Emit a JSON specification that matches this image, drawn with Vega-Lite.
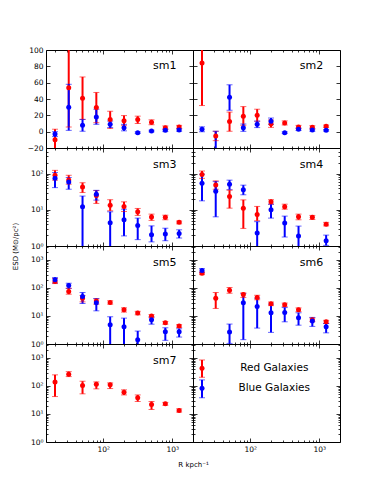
{
"$schema": "https://vega.github.io/schema/vega-lite/v6.json",
"padding": {"left": 10, "top": 45, "right": 5, "bottom": 5},
"background": "white",
"datasets": {"esd": [
{"p":"sm1","g":"Red","R":20,"y":-10,"lo":-25,"hi":3},
{"p":"sm1","g":"Red","R":31.6,"y":53.7,"lo":5.7,"hi":101.7},
{"p":"sm1","g":"Red","R":50.1,"y":41,"lo":15,"hi":67},
{"p":"sm1","g":"Red","R":79.4,"y":29.5,"lo":11,"hi":48},
{"p":"sm1","g":"Red","R":126,"y":14.8,"lo":4,"hi":25},
{"p":"sm1","g":"Red","R":200,"y":13.5,"lo":7.8,"hi":19.7},
{"p":"sm1","g":"Red","R":316,"y":14.8,"lo":10,"hi":19},
{"p":"sm1","g":"Red","R":501,"y":11.5,"lo":8.5,"hi":14.5},
{"p":"sm1","g":"Red","R":794,"y":4.9,"lo":3,"hi":7},
{"p":"sm1","g":"Red","R":1259,"y":5.7,"lo":3.7,"hi":7.7},
{"p":"sm1","g":"Blue","R":20,"y":-3,"lo":-6,"hi":0},
{"p":"sm1","g":"Blue","R":31.6,"y":30,"lo":1.6,"hi":58},
{"p":"sm1","g":"Blue","R":50.1,"y":7.8,"lo":0.5,"hi":15},
{"p":"sm1","g":"Blue","R":79.4,"y":18,"lo":9,"hi":27.5},
{"p":"sm1","g":"Blue","R":126,"y":9,"lo":5,"hi":13},
{"p":"sm1","g":"Blue","R":200,"y":4.9,"lo":1,"hi":9},
{"p":"sm1","g":"Blue","R":316,"y":-1.2,"lo":-2.2,"hi":-0.2},
{"p":"sm1","g":"Blue","R":501,"y":0.8,"lo":-0.2,"hi":1.8},
{"p":"sm1","g":"Blue","R":794,"y":1.6,"lo":0.1,"hi":3.1},
{"p":"sm1","g":"Blue","R":1259,"y":2,"lo":0.5,"hi":3.5},
{"p":"sm2","g":"Red","R":20,"y":84,"lo":32,"hi":136},
{"p":"sm2","g":"Red","R":31.6,"y":-5.3,"lo":-11,"hi":0.5},
{"p":"sm2","g":"Red","R":50.1,"y":12.3,"lo":0.5,"hi":24},
{"p":"sm2","g":"Red","R":79.4,"y":18.9,"lo":7.8,"hi":30.7},
{"p":"sm2","g":"Red","R":126,"y":20,"lo":12.7,"hi":27.5},
{"p":"sm2","g":"Red","R":200,"y":9.8,"lo":5.3,"hi":14.3},
{"p":"sm2","g":"Red","R":316,"y":10.7,"lo":8.2,"hi":13.2},
{"p":"sm2","g":"Red","R":501,"y":5.7,"lo":3.7,"hi":7.7},
{"p":"sm2","g":"Red","R":794,"y":5.3,"lo":3.3,"hi":7.3},
{"p":"sm2","g":"Red","R":1259,"y":6.6,"lo":5.1,"hi":8.1},
{"p":"sm2","g":"Blue","R":20,"y":2.9,"lo":-0.1,"hi":5.9},
{"p":"sm2","g":"Blue","R":31.6,"y":-25,"lo":-50,"hi":0.5},
{"p":"sm2","g":"Blue","R":50.1,"y":42.2,"lo":26.2,"hi":57.4},
{"p":"sm2","g":"Blue","R":79.4,"y":4.9,"lo":0.4,"hi":9.4},
{"p":"sm2","g":"Blue","R":126,"y":9,"lo":5,"hi":13},
{"p":"sm2","g":"Blue","R":200,"y":12.7,"lo":8.7,"hi":16.7},
{"p":"sm2","g":"Blue","R":316,"y":-1.2,"lo":-2.2,"hi":-0.2},
{"p":"sm2","g":"Blue","R":501,"y":2.9,"lo":1.4,"hi":4.4},
{"p":"sm2","g":"Blue","R":794,"y":2,"lo":0.5,"hi":3.5},
{"p":"sm2","g":"Blue","R":1259,"y":1.6,"lo":0.6,"hi":2.6},
{"p":"sm3","g":"Red","R":20,"y":90,"lo":66,"hi":123},
{"p":"sm3","g":"Red","R":31.6,"y":67,"lo":51,"hi":90},
{"p":"sm3","g":"Red","R":50.1,"y":43,"lo":30,"hi":56},
{"p":"sm3","g":"Red","R":79.4,"y":24.8,"lo":15,"hi":34},
{"p":"sm3","g":"Red","R":126,"y":13.4,"lo":9.4,"hi":19},
{"p":"sm3","g":"Red","R":200,"y":12.4,"lo":9,"hi":16.6},
{"p":"sm3","g":"Red","R":316,"y":8.8,"lo":7,"hi":10.9},
{"p":"sm3","g":"Red","R":501,"y":6.3,"lo":5.1,"hi":7.6},
{"p":"sm3","g":"Red","R":794,"y":6.2,"lo":5.3,"hi":7.1},
{"p":"sm3","g":"Red","R":1259,"y":4.5,"lo":4.1,"hi":4.9},
{"p":"sm3","g":"Blue","R":20,"y":74,"lo":41,"hi":107},
{"p":"sm3","g":"Blue","R":31.6,"y":59,"lo":37,"hi":78},
{"p":"sm3","g":"Blue","R":50.1,"y":12.1,"lo":0.5,"hi":24},
{"p":"sm3","g":"Blue","R":79.4,"y":27,"lo":18.5,"hi":34.5},
{"p":"sm3","g":"Blue","R":126,"y":4.4,"lo":0.5,"hi":8.8},
{"p":"sm3","g":"Blue","R":200,"y":5.3,"lo":1.9,"hi":10.4},
{"p":"sm3","g":"Blue","R":316,"y":3.7,"lo":1.5,"hi":5.9},
{"p":"sm3","g":"Blue","R":501,"y":2.05,"lo":1.3,"hi":3.6},
{"p":"sm3","g":"Blue","R":794,"y":2.14,"lo":1.4,"hi":3.1},
{"p":"sm3","g":"Blue","R":1259,"y":2.2,"lo":1.66,"hi":2.8},
{"p":"sm4","g":"Red","R":20,"y":94,"lo":74,"hi":118},
{"p":"sm4","g":"Red","R":31.6,"y":48.8,"lo":37,"hi":63},
{"p":"sm4","g":"Red","R":50.1,"y":23.3,"lo":11.1,"hi":34.8},
{"p":"sm4","g":"Red","R":79.4,"y":11.1,"lo":3.06,"hi":18.8},
{"p":"sm4","g":"Red","R":126,"y":7.4,"lo":5,"hi":12.4},
{"p":"sm4","g":"Red","R":200,"y":16.6,"lo":14.3,"hi":19},
{"p":"sm4","g":"Red","R":316,"y":12.1,"lo":10.4,"hi":14.3},
{"p":"sm4","g":"Red","R":501,"y":6.4,"lo":5.3,"hi":7.6},
{"p":"sm4","g":"Red","R":794,"y":6.2,"lo":5.4,"hi":7},
{"p":"sm4","g":"Red","R":1259,"y":4,"lo":3.6,"hi":4.5},
{"p":"sm4","g":"Blue","R":20,"y":54,"lo":17.7,"hi":96},
{"p":"sm4","g":"Blue","R":31.6,"y":32.7,"lo":6.4,"hi":60},
{"p":"sm4","g":"Blue","R":50.1,"y":51,"lo":36,"hi":66},
{"p":"sm4","g":"Blue","R":79.4,"y":36,"lo":26,"hi":48},
{"p":"sm4","g":"Blue","R":126,"y":2.3,"lo":0.5,"hi":4.7},
{"p":"sm4","g":"Blue","R":200,"y":10,"lo":5.9,"hi":14.3},
{"p":"sm4","g":"Blue","R":316,"y":4.3,"lo":1.77,"hi":6.7},
{"p":"sm4","g":"Blue","R":501,"y":1.9,"lo":0.5,"hi":3.55},
{"p":"sm4","g":"Blue","R":1259,"y":1.4,"lo":1.04,"hi":2},
{"p":"sm5","g":"Red","R":20,"y":170,"lo":144,"hi":218},
{"p":"sm5","g":"Red","R":31.6,"y":75,"lo":60,"hi":98},
{"p":"sm5","g":"Red","R":50.1,"y":43,"lo":32,"hi":54},
{"p":"sm5","g":"Red","R":79.4,"y":34,"lo":26.5,"hi":41},
{"p":"sm5","g":"Red","R":126,"y":30.4,"lo":26.5,"hi":35},
{"p":"sm5","g":"Red","R":200,"y":16.7,"lo":13.8,"hi":19.6},
{"p":"sm5","g":"Red","R":316,"y":12.7,"lo":11,"hi":14.7},
{"p":"sm5","g":"Red","R":501,"y":9.9,"lo":8.7,"hi":11.2},
{"p":"sm5","g":"Red","R":794,"y":5.7,"lo":5.1,"hi":6.4},
{"p":"sm5","g":"Red","R":1259,"y":4.4,"lo":3.9,"hi":4.9},
{"p":"sm5","g":"Blue","R":20,"y":195,"lo":153,"hi":235},
{"p":"sm5","g":"Blue","R":31.6,"y":122,"lo":96,"hi":148},
{"p":"sm5","g":"Blue","R":50.1,"y":50,"lo":28,"hi":69},
{"p":"sm5","g":"Blue","R":79.4,"y":29.6,"lo":15.3,"hi":42},
{"p":"sm5","g":"Blue","R":126,"y":4.9,"lo":0.5,"hi":9.4},
{"p":"sm5","g":"Blue","R":200,"y":4.1,"lo":0.5,"hi":8.4},
{"p":"sm5","g":"Blue","R":316,"y":1.43,"lo":0.5,"hi":2.9},
{"p":"sm5","g":"Blue","R":501,"y":7.3,"lo":5.1,"hi":9.4},
{"p":"sm5","g":"Blue","R":794,"y":2.75,"lo":1.35,"hi":3.8},
{"p":"sm5","g":"Blue","R":1259,"y":2.75,"lo":1.77,"hi":3.5},
{"p":"sm6","g":"Red","R":20,"y":336,"lo":300,"hi":375},
{"p":"sm6","g":"Red","R":31.6,"y":43,"lo":18.6,"hi":69},
{"p":"sm6","g":"Red","R":50.1,"y":83,"lo":65,"hi":104},
{"p":"sm6","g":"Red","R":79.4,"y":58.6,"lo":46,"hi":67},
{"p":"sm6","g":"Red","R":126,"y":45.9,"lo":38,"hi":55},
{"p":"sm6","g":"Red","R":200,"y":27.2,"lo":23.5,"hi":31.5},
{"p":"sm6","g":"Red","R":316,"y":25,"lo":21.5,"hi":29},
{"p":"sm6","g":"Red","R":501,"y":16.7,"lo":14.3,"hi":19.5},
{"p":"sm6","g":"Red","R":794,"y":7.3,"lo":6.3,"hi":8.5},
{"p":"sm6","g":"Red","R":1259,"y":6.2,"lo":5.4,"hi":7},
{"p":"sm6","g":"Blue","R":20,"y":420,"lo":355,"hi":490},
{"p":"sm6","g":"Blue","R":50.1,"y":2.67,"lo":1.05,"hi":5.15},
{"p":"sm6","g":"Blue","R":79.4,"y":29.6,"lo":1.43,"hi":63},
{"p":"sm6","g":"Blue","R":126,"y":21.9,"lo":3.7,"hi":43},
{"p":"sm6","g":"Blue","R":200,"y":13,"lo":2.6,"hi":26.5},
{"p":"sm6","g":"Blue","R":316,"y":13.4,"lo":6.2,"hi":20},
{"p":"sm6","g":"Blue","R":501,"y":8.6,"lo":4.7,"hi":13},
{"p":"sm6","g":"Blue","R":794,"y":6.6,"lo":4.25,"hi":8.9},
{"p":"sm6","g":"Blue","R":1259,"y":4.1,"lo":2.5,"hi":5.4},
{"p":"sm7","g":"Red","R":20,"y":140,"lo":42,"hi":250},
{"p":"sm7","g":"Red","R":31.6,"y":263,"lo":217,"hi":326},
{"p":"sm7","g":"Red","R":50.1,"y":104,"lo":52.5,"hi":148},
{"p":"sm7","g":"Red","R":79.4,"y":116,"lo":79,"hi":140},
{"p":"sm7","g":"Red","R":126,"y":110,"lo":81,"hi":129},
{"p":"sm7","g":"Red","R":200,"y":60,"lo":48,"hi":73},
{"p":"sm7","g":"Red","R":316,"y":38,"lo":28,"hi":48},
{"p":"sm7","g":"Red","R":501,"y":22,"lo":14.5,"hi":28},
{"p":"sm7","g":"Red","R":794,"y":23,"lo":20.5,"hi":26},
{"p":"sm7","g":"Red","R":1259,"y":13.4,"lo":11.7,"hi":15.3},
{"p":"sm8","g":"Red","R":20,"y":430,"lo":205,"hi":850},
{"p":"sm8","g":"Blue","R":20,"y":83.5,"lo":38,"hi":165}
]},
"columns": 2,
"spacing": 0,
"bounds": "flush",
"concat": [
{"width":147,"height":98,"data":{"name":"esd"},"transform":[{"filter":"datum.p == 'sm1'"}],
 "resolve":{"axis":{"x":"independent","y":"independent"}},
 "layer":[
  {"mark":{"type":"rule","clip":true,"strokeWidth":2},"encoding":{
    "x":{"field":"R","type":"quantitative","scale":{"type":"log","domain":[14.8,2000]},"axis":{"values":[20,30,40,50,60,70,80,90,100,200,300,400,500,600,700,800,900,1000],"labels":false,"tickSize":{"condition":{"test":"indexof([100,1000], datum.value) >= 0","value":-4},"value":-2},"title":null}},
    "y":{"field":"lo","type":"quantitative","scale":{"domain":[-20,100]},"axis":{"values":[-20,0,20,40,60,80,100],"tickSize":-4,"labelPadding":7,"labelOverlap":false,"title":null}},
    "y2":{"field":"hi"},
    "color":{"field":"g","type":"nominal","scale":{"domain":["Red","Blue"],"range":["#ff0000","#0000ff"]},"legend":null}}},
  {"mark":{"type":"tick","clip":true,"orient":"horizontal","size":6,"thickness":1,"opacity":0.6},"encoding":{
    "x":{"field":"R","type":"quantitative","scale":{"type":"log","domain":[14.8,2000]},"axis":null},
    "y":{"field":"lo","type":"quantitative","scale":{"domain":[-20,100]},"axis":null},
    "color":{"field":"g","type":"nominal","scale":{"domain":["Red","Blue"],"range":["#ff0000","#0000ff"]},"legend":null}}},
  {"mark":{"type":"tick","clip":true,"orient":"horizontal","size":6,"thickness":1,"opacity":0.6},"encoding":{
    "x":{"field":"R","type":"quantitative","scale":{"type":"log","domain":[14.8,2000]},"axis":null},
    "y":{"field":"hi","type":"quantitative","scale":{"domain":[-20,100]},"axis":null},
    "color":{"field":"g","type":"nominal","scale":{"domain":["Red","Blue"],"range":["#ff0000","#0000ff"]},"legend":null}}},
  {"mark":{"type":"circle","clip":true,"size":25,"opacity":1},"encoding":{
    "x":{"field":"R","type":"quantitative","scale":{"type":"log","domain":[14.8,2000]},"axis":null},
    "y":{"field":"y","type":"quantitative","scale":{"domain":[-20,100]},"axis":null},
    "color":{"field":"g","type":"nominal","scale":{"domain":["Red","Blue"],"range":["#ff0000","#0000ff"]},"legend":null}}},
  {"data":{"values":[{"t":"sm1","p":"sm1"}]},"mark":{"type":"text","fontSize":11,"font":"DejaVu Sans","color":"black"},"encoding":{
    "x":{"datum":780,"type":"quantitative","scale":{"type":"log","domain":[14.8,2000]},"axis":null},
    "y":{"datum":80,"type":"quantitative","scale":{"domain":[-20,100]},"axis":null},
    "text":{"field":"t"}}},
  {"mark":{"type":"point","opacity":0},"encoding":{
    "x":{"field":"R","type":"quantitative","scale":{"type":"log","domain":[14.8,2000]},"axis":{"orient":"top","values":[20,30,40,50,60,70,80,90,100,200,300,400,500,600,700,800,900,1000],"labels":false,"tickSize":{"condition":{"test":"indexof([100,1000], datum.value) >= 0","value":-4},"value":-2},"title":null}},
    "y":{"field":"y","type":"quantitative","scale":{"domain":[-20,100]},"axis":{"orient":"right","values":[-20,0,20,40,60,80,100],"labels":false,"tickSize":-4,"title":null}}}}
 ]},
{"width":147,"height":98,"data":{"name":"esd"},"transform":[{"filter":"datum.p == 'sm2'"}],
 "resolve":{"axis":{"x":"independent","y":"independent"}},
 "layer":[
  {"mark":{"type":"rule","clip":true,"strokeWidth":2},"encoding":{
    "x":{"field":"R","type":"quantitative","scale":{"type":"log","domain":[14.8,2000]},"axis":{"values":[20,30,40,50,60,70,80,90,100,200,300,400,500,600,700,800,900,1000],"labels":false,"tickSize":{"condition":{"test":"indexof([100,1000], datum.value) >= 0","value":-4},"value":-2},"title":null}},
    "y":{"field":"lo","type":"quantitative","scale":{"domain":[-20,100]},"axis":{"values":[-20,0,20,40,60,80,100],"tickSize":-4,"labels":false,"title":null}},
    "y2":{"field":"hi"},
    "color":{"field":"g","type":"nominal","scale":{"domain":["Red","Blue"],"range":["#ff0000","#0000ff"]},"legend":null}}},
  {"mark":{"type":"tick","clip":true,"orient":"horizontal","size":6,"thickness":1,"opacity":0.6},"encoding":{
    "x":{"field":"R","type":"quantitative","scale":{"type":"log","domain":[14.8,2000]},"axis":null},
    "y":{"field":"lo","type":"quantitative","scale":{"domain":[-20,100]},"axis":null},
    "color":{"field":"g","type":"nominal","scale":{"domain":["Red","Blue"],"range":["#ff0000","#0000ff"]},"legend":null}}},
  {"mark":{"type":"tick","clip":true,"orient":"horizontal","size":6,"thickness":1,"opacity":0.6},"encoding":{
    "x":{"field":"R","type":"quantitative","scale":{"type":"log","domain":[14.8,2000]},"axis":null},
    "y":{"field":"hi","type":"quantitative","scale":{"domain":[-20,100]},"axis":null},
    "color":{"field":"g","type":"nominal","scale":{"domain":["Red","Blue"],"range":["#ff0000","#0000ff"]},"legend":null}}},
  {"mark":{"type":"circle","clip":true,"size":25,"opacity":1},"encoding":{
    "x":{"field":"R","type":"quantitative","scale":{"type":"log","domain":[14.8,2000]},"axis":null},
    "y":{"field":"y","type":"quantitative","scale":{"domain":[-20,100]},"axis":null},
    "color":{"field":"g","type":"nominal","scale":{"domain":["Red","Blue"],"range":["#ff0000","#0000ff"]},"legend":null}}},
  {"data":{"values":[{"t":"sm2","p":"sm2"}]},"mark":{"type":"text","fontSize":11,"font":"DejaVu Sans","color":"black"},"encoding":{
    "x":{"datum":770,"type":"quantitative","scale":{"type":"log","domain":[14.8,2000]},"axis":null},
    "y":{"datum":80,"type":"quantitative","scale":{"domain":[-20,100]},"axis":null},
    "text":{"field":"t"}}},
  {"mark":{"type":"point","opacity":0},"encoding":{
    "x":{"field":"R","type":"quantitative","scale":{"type":"log","domain":[14.8,2000]},"axis":{"orient":"top","values":[20,30,40,50,60,70,80,90,100,200,300,400,500,600,700,800,900,1000],"labels":false,"tickSize":{"condition":{"test":"indexof([100,1000], datum.value) >= 0","value":-4},"value":-2},"title":null}},
    "y":{"field":"y","type":"quantitative","scale":{"domain":[-20,100]},"axis":{"orient":"right","values":[-20,0,20,40,60,80,100],"labels":false,"tickSize":-4,"title":null}}}}
 ]},
{"width":147,"height":98,"data":{"name":"esd"},"transform":[{"filter":"datum.p == 'sm3'"}],
 "resolve":{"axis":{"x":"independent","y":"independent"}},
 "layer":[
  {"mark":{"type":"rule","clip":true,"strokeWidth":2},"encoding":{
    "x":{"field":"R","type":"quantitative","scale":{"type":"log","domain":[14.8,2000]},"axis":{"values":[20,30,40,50,60,70,80,90,100,200,300,400,500,600,700,800,900,1000],"labels":false,"tickSize":{"condition":{"test":"indexof([100,1000], datum.value) >= 0","value":-4},"value":-2},"title":null}},
    "y":{"field":"lo","type":"quantitative","scale":{"type":"log","domain":[1,510]},"axis":{"values":[1,2,3,4,5,6,7,8,9,10,20,30,40,50,60,70,80,90,100,200,300,400,500],"labelExpr":"datum.value == 1 ? '10⁰' : datum.value == 10 ? '10¹' : datum.value == 100 ? '10²' : ''","tickSize":{"condition":{"test":"indexof([1,10,100,1000], datum.value) >= 0","value":-4},"value":-2},"labelPadding":7,"labelOverlap":false,"title":"ESD (M⊙/pc²)","titleY":98,"titlePadding":12}},
    "y2":{"field":"hi"},
    "color":{"field":"g","type":"nominal","scale":{"domain":["Red","Blue"],"range":["#ff0000","#0000ff"]},"legend":null}}},
  {"mark":{"type":"tick","clip":true,"orient":"horizontal","size":6,"thickness":1,"opacity":0.6},"encoding":{
    "x":{"field":"R","type":"quantitative","scale":{"type":"log","domain":[14.8,2000]},"axis":null},
    "y":{"field":"lo","type":"quantitative","scale":{"type":"log","domain":[1,510]},"axis":null},
    "color":{"field":"g","type":"nominal","scale":{"domain":["Red","Blue"],"range":["#ff0000","#0000ff"]},"legend":null}}},
  {"mark":{"type":"tick","clip":true,"orient":"horizontal","size":6,"thickness":1,"opacity":0.6},"encoding":{
    "x":{"field":"R","type":"quantitative","scale":{"type":"log","domain":[14.8,2000]},"axis":null},
    "y":{"field":"hi","type":"quantitative","scale":{"type":"log","domain":[1,510]},"axis":null},
    "color":{"field":"g","type":"nominal","scale":{"domain":["Red","Blue"],"range":["#ff0000","#0000ff"]},"legend":null}}},
  {"mark":{"type":"circle","clip":true,"size":25,"opacity":1},"encoding":{
    "x":{"field":"R","type":"quantitative","scale":{"type":"log","domain":[14.8,2000]},"axis":null},
    "y":{"field":"y","type":"quantitative","scale":{"type":"log","domain":[1,510]},"axis":null},
    "color":{"field":"g","type":"nominal","scale":{"domain":["Red","Blue"],"range":["#ff0000","#0000ff"]},"legend":null}}},
  {"data":{"values":[{"t":"sm3","p":"sm3"}]},"mark":{"type":"text","fontSize":11,"font":"DejaVu Sans","color":"black"},"encoding":{
    "x":{"datum":780,"type":"quantitative","scale":{"type":"log","domain":[14.8,2000]},"axis":null},
    "y":{"datum":174,"type":"quantitative","scale":{"type":"log","domain":[1,510]},"axis":null},
    "text":{"field":"t"}}},
  {"mark":{"type":"point","opacity":0},"encoding":{
    "x":{"field":"R","type":"quantitative","scale":{"type":"log","domain":[14.8,2000]},"axis":{"orient":"top","values":[20,30,40,50,60,70,80,90,100,200,300,400,500,600,700,800,900,1000],"labels":false,"tickSize":{"condition":{"test":"indexof([100,1000], datum.value) >= 0","value":-4},"value":-2},"title":null}},
    "y":{"field":"y","type":"quantitative","scale":{"type":"log","domain":[1,510]},"axis":{"orient":"right","values":[1,2,3,4,5,6,7,8,9,10,20,30,40,50,60,70,80,90,100,200,300,400,500],"labels":false,"tickSize":{"condition":{"test":"indexof([1,10,100,1000], datum.value) >= 0","value":-4},"value":-2},"title":null}}}}
 ]},
{"width":147,"height":98,"data":{"name":"esd"},"transform":[{"filter":"datum.p == 'sm4'"}],
 "resolve":{"axis":{"x":"independent","y":"independent"}},
 "layer":[
  {"mark":{"type":"rule","clip":true,"strokeWidth":2},"encoding":{
    "x":{"field":"R","type":"quantitative","scale":{"type":"log","domain":[14.8,2000]},"axis":{"values":[20,30,40,50,60,70,80,90,100,200,300,400,500,600,700,800,900,1000],"labels":false,"tickSize":{"condition":{"test":"indexof([100,1000], datum.value) >= 0","value":-4},"value":-2},"title":null}},
    "y":{"field":"lo","type":"quantitative","scale":{"type":"log","domain":[1,510]},"axis":{"values":[1,2,3,4,5,6,7,8,9,10,20,30,40,50,60,70,80,90,100,200,300,400,500],"labels":false,"tickSize":{"condition":{"test":"indexof([1,10,100,1000], datum.value) >= 0","value":-4},"value":-2},"title":null}},
    "y2":{"field":"hi"},
    "color":{"field":"g","type":"nominal","scale":{"domain":["Red","Blue"],"range":["#ff0000","#0000ff"]},"legend":null}}},
  {"mark":{"type":"tick","clip":true,"orient":"horizontal","size":6,"thickness":1,"opacity":0.6},"encoding":{
    "x":{"field":"R","type":"quantitative","scale":{"type":"log","domain":[14.8,2000]},"axis":null},
    "y":{"field":"lo","type":"quantitative","scale":{"type":"log","domain":[1,510]},"axis":null},
    "color":{"field":"g","type":"nominal","scale":{"domain":["Red","Blue"],"range":["#ff0000","#0000ff"]},"legend":null}}},
  {"mark":{"type":"tick","clip":true,"orient":"horizontal","size":6,"thickness":1,"opacity":0.6},"encoding":{
    "x":{"field":"R","type":"quantitative","scale":{"type":"log","domain":[14.8,2000]},"axis":null},
    "y":{"field":"hi","type":"quantitative","scale":{"type":"log","domain":[1,510]},"axis":null},
    "color":{"field":"g","type":"nominal","scale":{"domain":["Red","Blue"],"range":["#ff0000","#0000ff"]},"legend":null}}},
  {"mark":{"type":"circle","clip":true,"size":25,"opacity":1},"encoding":{
    "x":{"field":"R","type":"quantitative","scale":{"type":"log","domain":[14.8,2000]},"axis":null},
    "y":{"field":"y","type":"quantitative","scale":{"type":"log","domain":[1,510]},"axis":null},
    "color":{"field":"g","type":"nominal","scale":{"domain":["Red","Blue"],"range":["#ff0000","#0000ff"]},"legend":null}}},
  {"data":{"values":[{"t":"sm4","p":"sm4"}]},"mark":{"type":"text","fontSize":11,"font":"DejaVu Sans","color":"black"},"encoding":{
    "x":{"datum":770,"type":"quantitative","scale":{"type":"log","domain":[14.8,2000]},"axis":null},
    "y":{"datum":174,"type":"quantitative","scale":{"type":"log","domain":[1,510]},"axis":null},
    "text":{"field":"t"}}},
  {"mark":{"type":"point","opacity":0},"encoding":{
    "x":{"field":"R","type":"quantitative","scale":{"type":"log","domain":[14.8,2000]},"axis":{"orient":"top","values":[20,30,40,50,60,70,80,90,100,200,300,400,500,600,700,800,900,1000],"labels":false,"tickSize":{"condition":{"test":"indexof([100,1000], datum.value) >= 0","value":-4},"value":-2},"title":null}},
    "y":{"field":"y","type":"quantitative","scale":{"type":"log","domain":[1,510]},"axis":{"orient":"right","values":[1,2,3,4,5,6,7,8,9,10,20,30,40,50,60,70,80,90,100,200,300,400,500],"labels":false,"tickSize":{"condition":{"test":"indexof([1,10,100,1000], datum.value) >= 0","value":-4},"value":-2},"title":null}}}}
 ]},
{"width":147,"height":98,"data":{"name":"esd"},"transform":[{"filter":"datum.p == 'sm5'"}],
 "resolve":{"axis":{"x":"independent","y":"independent"}},
 "layer":[
  {"mark":{"type":"rule","clip":true,"strokeWidth":2},"encoding":{
    "x":{"field":"R","type":"quantitative","scale":{"type":"log","domain":[14.8,2000]},"axis":{"values":[20,30,40,50,60,70,80,90,100,200,300,400,500,600,700,800,900,1000],"labels":false,"tickSize":{"condition":{"test":"indexof([100,1000], datum.value) >= 0","value":-4},"value":-2},"title":null}},
    "y":{"field":"lo","type":"quantitative","scale":{"type":"log","domain":[1,3160]},"axis":{"values":[1,2,3,4,5,6,7,8,9,10,20,30,40,50,60,70,80,90,100,200,300,400,500,600,700,800,900,1000,2000,3000],"labelExpr":"datum.value == 1 ? '10⁰' : datum.value == 10 ? '10¹' : datum.value == 100 ? '10²' : datum.value == 1000 ? '10³' : ''","tickSize":{"condition":{"test":"indexof([1,10,100,1000], datum.value) >= 0","value":-4},"value":-2},"labelPadding":7,"labelOverlap":false,"title":null}},
    "y2":{"field":"hi"},
    "color":{"field":"g","type":"nominal","scale":{"domain":["Red","Blue"],"range":["#ff0000","#0000ff"]},"legend":null}}},
  {"mark":{"type":"tick","clip":true,"orient":"horizontal","size":6,"thickness":1,"opacity":0.6},"encoding":{
    "x":{"field":"R","type":"quantitative","scale":{"type":"log","domain":[14.8,2000]},"axis":null},
    "y":{"field":"lo","type":"quantitative","scale":{"type":"log","domain":[1,3160]},"axis":null},
    "color":{"field":"g","type":"nominal","scale":{"domain":["Red","Blue"],"range":["#ff0000","#0000ff"]},"legend":null}}},
  {"mark":{"type":"tick","clip":true,"orient":"horizontal","size":6,"thickness":1,"opacity":0.6},"encoding":{
    "x":{"field":"R","type":"quantitative","scale":{"type":"log","domain":[14.8,2000]},"axis":null},
    "y":{"field":"hi","type":"quantitative","scale":{"type":"log","domain":[1,3160]},"axis":null},
    "color":{"field":"g","type":"nominal","scale":{"domain":["Red","Blue"],"range":["#ff0000","#0000ff"]},"legend":null}}},
  {"mark":{"type":"circle","clip":true,"size":25,"opacity":1},"encoding":{
    "x":{"field":"R","type":"quantitative","scale":{"type":"log","domain":[14.8,2000]},"axis":null},
    "y":{"field":"y","type":"quantitative","scale":{"type":"log","domain":[1,3160]},"axis":null},
    "color":{"field":"g","type":"nominal","scale":{"domain":["Red","Blue"],"range":["#ff0000","#0000ff"]},"legend":null}}},
  {"data":{"values":[{"t":"sm5","p":"sm5"}]},"mark":{"type":"text","fontSize":11,"font":"DejaVu Sans","color":"black"},"encoding":{
    "x":{"datum":780,"type":"quantitative","scale":{"type":"log","domain":[14.8,2000]},"axis":null},
    "y":{"datum":760,"type":"quantitative","scale":{"type":"log","domain":[1,3160]},"axis":null},
    "text":{"field":"t"}}},
  {"mark":{"type":"point","opacity":0},"encoding":{
    "x":{"field":"R","type":"quantitative","scale":{"type":"log","domain":[14.8,2000]},"axis":{"orient":"top","values":[20,30,40,50,60,70,80,90,100,200,300,400,500,600,700,800,900,1000],"labels":false,"tickSize":{"condition":{"test":"indexof([100,1000], datum.value) >= 0","value":-4},"value":-2},"title":null}},
    "y":{"field":"y","type":"quantitative","scale":{"type":"log","domain":[1,3160]},"axis":{"orient":"right","values":[1,2,3,4,5,6,7,8,9,10,20,30,40,50,60,70,80,90,100,200,300,400,500,600,700,800,900,1000,2000,3000],"labels":false,"tickSize":{"condition":{"test":"indexof([1,10,100,1000], datum.value) >= 0","value":-4},"value":-2},"title":null}}}}
 ]},
{"width":147,"height":98,"data":{"name":"esd"},"transform":[{"filter":"datum.p == 'sm6'"}],
 "resolve":{"axis":{"x":"independent","y":"independent"}},
 "layer":[
  {"mark":{"type":"rule","clip":true,"strokeWidth":2},"encoding":{
    "x":{"field":"R","type":"quantitative","scale":{"type":"log","domain":[14.8,2000]},"axis":{"values":[20,30,40,50,60,70,80,90,100,200,300,400,500,600,700,800,900,1000],"labels":false,"tickSize":{"condition":{"test":"indexof([100,1000], datum.value) >= 0","value":-4},"value":-2},"title":null}},
    "y":{"field":"lo","type":"quantitative","scale":{"type":"log","domain":[1,3160]},"axis":{"values":[1,2,3,4,5,6,7,8,9,10,20,30,40,50,60,70,80,90,100,200,300,400,500,600,700,800,900,1000,2000,3000],"labels":false,"tickSize":{"condition":{"test":"indexof([1,10,100,1000], datum.value) >= 0","value":-4},"value":-2},"title":null}},
    "y2":{"field":"hi"},
    "color":{"field":"g","type":"nominal","scale":{"domain":["Red","Blue"],"range":["#ff0000","#0000ff"]},"legend":null}}},
  {"mark":{"type":"tick","clip":true,"orient":"horizontal","size":6,"thickness":1,"opacity":0.6},"encoding":{
    "x":{"field":"R","type":"quantitative","scale":{"type":"log","domain":[14.8,2000]},"axis":null},
    "y":{"field":"lo","type":"quantitative","scale":{"type":"log","domain":[1,3160]},"axis":null},
    "color":{"field":"g","type":"nominal","scale":{"domain":["Red","Blue"],"range":["#ff0000","#0000ff"]},"legend":null}}},
  {"mark":{"type":"tick","clip":true,"orient":"horizontal","size":6,"thickness":1,"opacity":0.6},"encoding":{
    "x":{"field":"R","type":"quantitative","scale":{"type":"log","domain":[14.8,2000]},"axis":null},
    "y":{"field":"hi","type":"quantitative","scale":{"type":"log","domain":[1,3160]},"axis":null},
    "color":{"field":"g","type":"nominal","scale":{"domain":["Red","Blue"],"range":["#ff0000","#0000ff"]},"legend":null}}},
  {"mark":{"type":"circle","clip":true,"size":25,"opacity":1},"encoding":{
    "x":{"field":"R","type":"quantitative","scale":{"type":"log","domain":[14.8,2000]},"axis":null},
    "y":{"field":"y","type":"quantitative","scale":{"type":"log","domain":[1,3160]},"axis":null},
    "color":{"field":"g","type":"nominal","scale":{"domain":["Red","Blue"],"range":["#ff0000","#0000ff"]},"legend":null}}},
  {"data":{"values":[{"t":"sm6","p":"sm6"}]},"mark":{"type":"text","fontSize":11,"font":"DejaVu Sans","color":"black"},"encoding":{
    "x":{"datum":770,"type":"quantitative","scale":{"type":"log","domain":[14.8,2000]},"axis":null},
    "y":{"datum":784,"type":"quantitative","scale":{"type":"log","domain":[1,3160]},"axis":null},
    "text":{"field":"t"}}},
  {"mark":{"type":"point","opacity":0},"encoding":{
    "x":{"field":"R","type":"quantitative","scale":{"type":"log","domain":[14.8,2000]},"axis":{"orient":"top","values":[20,30,40,50,60,70,80,90,100,200,300,400,500,600,700,800,900,1000],"labels":false,"tickSize":{"condition":{"test":"indexof([100,1000], datum.value) >= 0","value":-4},"value":-2},"title":null}},
    "y":{"field":"y","type":"quantitative","scale":{"type":"log","domain":[1,3160]},"axis":{"orient":"right","values":[1,2,3,4,5,6,7,8,9,10,20,30,40,50,60,70,80,90,100,200,300,400,500,600,700,800,900,1000,2000,3000],"labels":false,"tickSize":{"condition":{"test":"indexof([1,10,100,1000], datum.value) >= 0","value":-4},"value":-2},"title":null}}}}
 ]},
{"width":147,"height":98,"data":{"name":"esd"},"transform":[{"filter":"datum.p == 'sm7'"}],
 "resolve":{"axis":{"x":"independent","y":"independent"}},
 "layer":[
  {"mark":{"type":"rule","clip":true,"strokeWidth":2},"encoding":{
    "x":{"field":"R","type":"quantitative","scale":{"type":"log","domain":[14.8,2000]},"axis":{"values":[20,30,40,50,60,70,80,90,100,200,300,400,500,600,700,800,900,1000],"labelExpr":"datum.value == 100 ? '10²' : datum.value == 1000 ? '10³' : ''","labelOverlap":false,"labelFlush":false,"labelPadding":7,"tickSize":{"condition":{"test":"indexof([100,1000], datum.value) >= 0","value":-4},"value":-2},"title":"R kpch⁻¹","titleX":147,"titlePadding":6}},
    "y":{"field":"lo","type":"quantitative","scale":{"type":"log","domain":[1,3160]},"axis":{"values":[1,2,3,4,5,6,7,8,9,10,20,30,40,50,60,70,80,90,100,200,300,400,500,600,700,800,900,1000,2000,3000],"labelExpr":"datum.value == 1 ? '10⁰' : datum.value == 10 ? '10¹' : datum.value == 100 ? '10²' : datum.value == 1000 ? '10³' : ''","tickSize":{"condition":{"test":"indexof([1,10,100,1000], datum.value) >= 0","value":-4},"value":-2},"labelPadding":7,"labelOverlap":false,"title":null}},
    "y2":{"field":"hi"},
    "color":{"field":"g","type":"nominal","scale":{"domain":["Red","Blue"],"range":["#ff0000","#0000ff"]},"legend":null}}},
  {"mark":{"type":"tick","clip":true,"orient":"horizontal","size":6,"thickness":1,"opacity":0.6},"encoding":{
    "x":{"field":"R","type":"quantitative","scale":{"type":"log","domain":[14.8,2000]},"axis":null},
    "y":{"field":"lo","type":"quantitative","scale":{"type":"log","domain":[1,3160]},"axis":null},
    "color":{"field":"g","type":"nominal","scale":{"domain":["Red","Blue"],"range":["#ff0000","#0000ff"]},"legend":null}}},
  {"mark":{"type":"tick","clip":true,"orient":"horizontal","size":6,"thickness":1,"opacity":0.6},"encoding":{
    "x":{"field":"R","type":"quantitative","scale":{"type":"log","domain":[14.8,2000]},"axis":null},
    "y":{"field":"hi","type":"quantitative","scale":{"type":"log","domain":[1,3160]},"axis":null},
    "color":{"field":"g","type":"nominal","scale":{"domain":["Red","Blue"],"range":["#ff0000","#0000ff"]},"legend":null}}},
  {"mark":{"type":"circle","clip":true,"size":25,"opacity":1},"encoding":{
    "x":{"field":"R","type":"quantitative","scale":{"type":"log","domain":[14.8,2000]},"axis":null},
    "y":{"field":"y","type":"quantitative","scale":{"type":"log","domain":[1,3160]},"axis":null},
    "color":{"field":"g","type":"nominal","scale":{"domain":["Red","Blue"],"range":["#ff0000","#0000ff"]},"legend":null}}},
  {"data":{"values":[{"t":"sm7","p":"sm7"}]},"mark":{"type":"text","fontSize":11,"font":"DejaVu Sans","color":"black"},"encoding":{
    "x":{"datum":780,"type":"quantitative","scale":{"type":"log","domain":[14.8,2000]},"axis":null},
    "y":{"datum":805,"type":"quantitative","scale":{"type":"log","domain":[1,3160]},"axis":null},
    "text":{"field":"t"}}},
  {"mark":{"type":"point","opacity":0},"encoding":{
    "x":{"field":"R","type":"quantitative","scale":{"type":"log","domain":[14.8,2000]},"axis":{"orient":"top","values":[20,30,40,50,60,70,80,90,100,200,300,400,500,600,700,800,900,1000],"labels":false,"tickSize":{"condition":{"test":"indexof([100,1000], datum.value) >= 0","value":-4},"value":-2},"title":null}},
    "y":{"field":"y","type":"quantitative","scale":{"type":"log","domain":[1,3160]},"axis":{"orient":"right","values":[1,2,3,4,5,6,7,8,9,10,20,30,40,50,60,70,80,90,100,200,300,400,500,600,700,800,900,1000,2000,3000],"labels":false,"tickSize":{"condition":{"test":"indexof([1,10,100,1000], datum.value) >= 0","value":-4},"value":-2},"title":null}}}}
 ]},
{"width":147,"height":98,"data":{"name":"esd"},"transform":[{"filter":"datum.p == 'sm8'"}],
 "resolve":{"axis":{"x":"independent","y":"independent"}},
 "layer":[
  {"mark":{"type":"rule","clip":true,"strokeWidth":2},"encoding":{
    "x":{"field":"R","type":"quantitative","scale":{"type":"log","domain":[14.8,2000]},"axis":{"values":[20,30,40,50,60,70,80,90,100,200,300,400,500,600,700,800,900,1000],"labelExpr":"datum.value == 100 ? '10²' : datum.value == 1000 ? '10³' : ''","labelOverlap":false,"labelFlush":false,"labelPadding":7,"tickSize":{"condition":{"test":"indexof([100,1000], datum.value) >= 0","value":-4},"value":-2},"title":null}},
    "y":{"field":"lo","type":"quantitative","scale":{"type":"log","domain":[1,3160]},"axis":{"values":[1,2,3,4,5,6,7,8,9,10,20,30,40,50,60,70,80,90,100,200,300,400,500,600,700,800,900,1000,2000,3000],"labels":false,"tickSize":{"condition":{"test":"indexof([1,10,100,1000], datum.value) >= 0","value":-4},"value":-2},"title":null}},
    "y2":{"field":"hi"},
    "color":{"field":"g","type":"nominal","scale":{"domain":["Red","Blue"],"range":["#ff0000","#0000ff"]},"legend":null}}},
  {"mark":{"type":"tick","clip":true,"orient":"horizontal","size":6,"thickness":1,"opacity":0.6},"encoding":{
    "x":{"field":"R","type":"quantitative","scale":{"type":"log","domain":[14.8,2000]},"axis":null},
    "y":{"field":"lo","type":"quantitative","scale":{"type":"log","domain":[1,3160]},"axis":null},
    "color":{"field":"g","type":"nominal","scale":{"domain":["Red","Blue"],"range":["#ff0000","#0000ff"]},"legend":null}}},
  {"mark":{"type":"tick","clip":true,"orient":"horizontal","size":6,"thickness":1,"opacity":0.6},"encoding":{
    "x":{"field":"R","type":"quantitative","scale":{"type":"log","domain":[14.8,2000]},"axis":null},
    "y":{"field":"hi","type":"quantitative","scale":{"type":"log","domain":[1,3160]},"axis":null},
    "color":{"field":"g","type":"nominal","scale":{"domain":["Red","Blue"],"range":["#ff0000","#0000ff"]},"legend":null}}},
  {"mark":{"type":"circle","clip":true,"size":25,"opacity":1},"encoding":{
    "x":{"field":"R","type":"quantitative","scale":{"type":"log","domain":[14.8,2000]},"axis":null},
    "y":{"field":"y","type":"quantitative","scale":{"type":"log","domain":[1,3160]},"axis":null},
    "color":{"field":"g","type":"nominal","scale":{"domain":["Red","Blue"],"range":["#ff0000","#0000ff"]},"legend":null}}},
  {"data":{"values":[{"t":"Red Galaxies","p":"sm8"}]},"mark":{"type":"text","fontSize":10.5,"font":"DejaVu Sans","color":"black"},"encoding":{
    "x":{"datum":223,"type":"quantitative","scale":{"type":"log","domain":[14.8,2000]},"axis":null},
    "y":{"datum":430,"type":"quantitative","scale":{"type":"log","domain":[1,3160]},"axis":null},
    "text":{"field":"t"}}},
  {"data":{"values":[{"t":"Blue Galaxies","p":"sm8"}]},"mark":{"type":"text","fontSize":10.5,"font":"DejaVu Sans","color":"black"},"encoding":{
    "x":{"datum":223,"type":"quantitative","scale":{"type":"log","domain":[14.8,2000]},"axis":null},
    "y":{"datum":83.5,"type":"quantitative","scale":{"type":"log","domain":[1,3160]},"axis":null},
    "text":{"field":"t"}}},
  {"mark":{"type":"point","opacity":0},"encoding":{
    "x":{"field":"R","type":"quantitative","scale":{"type":"log","domain":[14.8,2000]},"axis":{"orient":"top","values":[20,30,40,50,60,70,80,90,100,200,300,400,500,600,700,800,900,1000],"labels":false,"tickSize":{"condition":{"test":"indexof([100,1000], datum.value) >= 0","value":-4},"value":-2},"title":null}},
    "y":{"field":"y","type":"quantitative","scale":{"type":"log","domain":[1,3160]},"axis":{"orient":"right","values":[1,2,3,4,5,6,7,8,9,10,20,30,40,50,60,70,80,90,100,200,300,400,500,600,700,800,900,1000,2000,3000],"labels":false,"tickSize":{"condition":{"test":"indexof([1,10,100,1000], datum.value) >= 0","value":-4},"value":-2},"title":null}}}}
 ]}
],
"config": {
  "view": {"stroke": "black", "strokeWidth": 1},
  "axis": {"grid": false, "domain": false, "labelFont": "DejaVu Sans", "labelFontSize": 7.5, "labelColor": "black", "tickColor": "black", "tickWidth": 0.8, "titleFont": "DejaVu Sans", "titleFontSize": 7, "titleFontWeight": "normal", "titleColor": "black"},
  "text": {"font": "DejaVu Sans"}
}
}
